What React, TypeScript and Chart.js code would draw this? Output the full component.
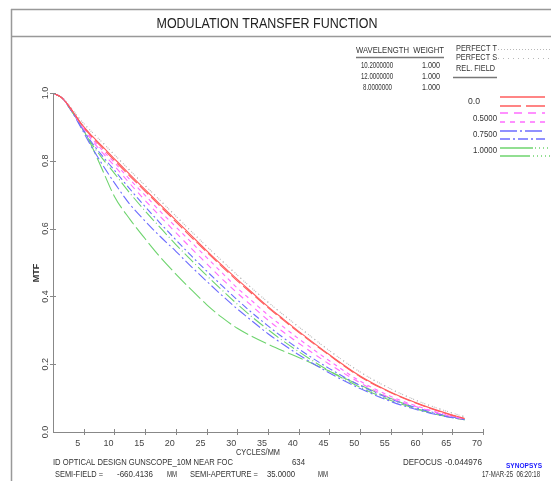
import React, { useEffect, useRef } from "react";
import { Chart, registerables } from "chart.js";
Chart.register(...registerables);

// ---------- data ----------
const CYCLES = [0, 1.5, 3, 4.5, 6, 8, 10, 12.5, 15, 17.5, 20, 22.5, 25, 27.5, 30, 32.5, 35, 37.5, 40, 45, 50, 55, 60, 65, 67];
const PERFECT = [1.0, 0.986, 0.955, 0.92, 0.891, 0.855, 0.818, 0.772, 0.727, 0.682, 0.637, 0.592, 0.548, 0.505, 0.463, 0.422, 0.383, 0.346, 0.31, 0.24, 0.177, 0.127, 0.087, 0.056, 0.045];
const F00_T = [1.0, 0.985, 0.951, 0.912, 0.88, 0.843, 0.806, 0.76, 0.715, 0.67, 0.625, 0.58, 0.535, 0.492, 0.45, 0.41, 0.37, 0.333, 0.297, 0.228, 0.165, 0.117, 0.08, 0.05, 0.04];
const F00_S = [1.0, 0.985, 0.951, 0.911, 0.877, 0.839, 0.801, 0.755, 0.71, 0.665, 0.62, 0.575, 0.531, 0.488, 0.446, 0.406, 0.367, 0.33, 0.294, 0.226, 0.163, 0.116, 0.079, 0.049, 0.04];
const F05_S = [1.0, 0.985, 0.951, 0.909, 0.873, 0.832, 0.795, 0.745, 0.698, 0.65, 0.605, 0.56, 0.515, 0.47, 0.425, 0.385, 0.345, 0.31, 0.275, 0.21, 0.15, 0.105, 0.072, 0.047, 0.04];
const F05_T = [1.0, 0.985, 0.95, 0.907, 0.868, 0.825, 0.785, 0.733, 0.683, 0.635, 0.588, 0.542, 0.497, 0.452, 0.41, 0.37, 0.33, 0.295, 0.262, 0.2, 0.145, 0.1, 0.07, 0.045, 0.038];
const F075_S = [1.0, 0.985, 0.949, 0.905, 0.862, 0.815, 0.772, 0.717, 0.665, 0.615, 0.567, 0.52, 0.475, 0.432, 0.39, 0.35, 0.313, 0.278, 0.245, 0.187, 0.137, 0.097, 0.067, 0.044, 0.037];
const F075_T = [1.0, 0.985, 0.947, 0.9, 0.85, 0.79, 0.735, 0.672, 0.622, 0.576, 0.533, 0.488, 0.445, 0.403, 0.363, 0.326, 0.29, 0.258, 0.228, 0.174, 0.128, 0.09, 0.062, 0.042, 0.036];
const F10_S = [1.0, 0.985, 0.948, 0.903, 0.858, 0.808, 0.763, 0.705, 0.652, 0.602, 0.553, 0.507, 0.462, 0.419, 0.377, 0.338, 0.302, 0.268, 0.237, 0.18, 0.132, 0.093, 0.064, 0.043, 0.036];
const F10_T = [1.0, 0.985, 0.947, 0.905, 0.855, 0.775, 0.695, 0.628, 0.57, 0.515, 0.466, 0.42, 0.376, 0.338, 0.306, 0.281, 0.259, 0.239, 0.22, 0.179, 0.138, 0.099, 0.064, 0.042, 0.036];

const X_TICKS = [5, 10, 15, 20, 25, 30, 35, 40, 45, 50, 55, 60, 65, 70];
const Y_TICKS = [0, 0.2, 0.4, 0.6, 0.8, 1.0];
const Y_TICK_LABELS = ["0.0", "0.2", "0.4", "0.6", "0.8", "1.0"];
const WAVELENGTHS = ["10.2000000", "12.0000000", "8.0000000"];
const WEIGHTS = ["1.000", "1.000", "1.000"];
const FIELDS = ["0.0", "0.5000", "0.7500", "1.0000"];

const RED = "#ff5c5c";
const MAG = "#ff6cff";
const BLUE = "#6c6cff";
const GREEN = "#6ed46e";
const GRAY = "#b8b8b8";

const FONT = '"Liberation Sans Narrow", "Liberation Sans", Arial, sans-serif';

function pts(arr: number[]) {
  return CYCLES.map((c, i) => ({ x: c, y: arr[i] }));
}

function txt(
  ctx: CanvasRenderingContext2D,
  s: string,
  x: number,
  y: number,
  o: { size?: number; align?: CanvasTextAlign; color?: string; maxW?: number; bold?: boolean } = {}
) {
  ctx.save();
  ctx.font = `${o.bold ? "bold " : ""}${o.size ?? 9}px ${FONT}`;
  ctx.fillStyle = o.color ?? "#333";
  ctx.textAlign = o.align ?? "left";
  ctx.textBaseline = "middle";
  if (o.maxW) ctx.fillText(s, x, y, o.maxW);
  else ctx.fillText(s, x, y);
  ctx.restore();
}

function seg(ctx: CanvasRenderingContext2D, x1: number, y1: number, x2: number, y2: number, color: string, dash: number[] = [], w = 1) {
  ctx.save();
  ctx.strokeStyle = color;
  ctx.lineWidth = w;
  ctx.setLineDash(dash);
  ctx.beginPath();
  ctx.moveTo(x1, y1);
  ctx.lineTo(x2, y2);
  ctx.stroke();
  ctx.restore();
}

const decor = {
  id: "decor",
  beforeDraw(chart: any) {
    const ctx = chart.ctx;
    ctx.save();
    ctx.fillStyle = "#fff";
    ctx.fillRect(0, 0, chart.width, chart.height);
    ctx.restore();
  },
  afterDraw(chart: any) {
    const ctx: CanvasRenderingContext2D = chart.ctx;
    const xs = chart.scales.x;
    const ys = chart.scales.y;
    // frame
    seg(ctx, 11, 9.5, 551, 9.5, "#999", [], 1.5);
    seg(ctx, 11, 36.5, 551, 36.5, "#999", [], 1.5);
    seg(ctx, 11.5, 9, 11.5, 481, "#999", [], 1.5);
    // title
    txt(ctx, "MODULATION TRANSFER FUNCTION", 267, 24, { size: 15, align: "center", color: "#222", maxW: 221 });

    // tick marks
    const ax = chart.chartArea;
    X_TICKS.forEach((v) => {
      const px = Math.round(xs.getPixelForValue(v)) + 0.5;
      seg(ctx, px, ax.bottom - 3, px, ax.bottom + 3, "#888");
    });
    Y_TICKS.forEach((v, i) => {
      const py = Math.round(ys.getPixelForValue(v)) + 0.5;
      if (v > 0) seg(ctx, ax.left - 3, py, ax.left + 3, py, "#888");
      ctx.save();
      ctx.translate(46, ys.getPixelForValue(v));
      ctx.rotate(-Math.PI / 2);
      txt(ctx, Y_TICK_LABELS[i], 0, 0, { size: 9, align: "center", color: "#444" });
      ctx.restore();
    });
    // axis titles
    ctx.save();
    ctx.translate(37, 273);
    ctx.rotate(-Math.PI / 2);
    txt(ctx, "MTF", 0, 0, { size: 9, align: "center", color: "#333", bold: true });
    ctx.restore();
    txt(ctx, "CYCLES/MM", 258, 453, { size: 9, align: "center", color: "#333", maxW: 44 });

    // legend: wavelengths
    txt(ctx, "WAVELENGTH  WEIGHT", 356, 51, { maxW: 88 });
    seg(ctx, 356, 57.5, 444, 57.5, "#777", [], 1.5);
    const wy = [66, 77, 88];
    WAVELENGTHS.forEach((w, i) => {
      txt(ctx, w, i === 2 ? 363 : 361, wy[i], { maxW: i === 2 ? 29 : 32 });
      txt(ctx, WEIGHTS[i], 422, wy[i], { maxW: 18 });
    });
    txt(ctx, "PERFECT T", 456, 49, { maxW: 41 });
    txt(ctx, "PERFECT S", 456, 58, { maxW: 41 });
    seg(ctx, 498, 49.5, 551, 49.5, GRAY, [1, 2]);
    seg(ctx, 498, 58.5, 551, 58.5, GRAY, [1, 4]);
    txt(ctx, "REL. FIELD", 456, 69, { maxW: 39 });
    seg(ctx, 453, 77.5, 497, 77.5, "#777", [], 1.5);

    const fy = [102, 119, 135, 151];
    FIELDS.forEach((f, i) => {
      txt(ctx, f, i === 0 ? 468 : 473, fy[i], { maxW: i === 0 ? 12 : 24 });
    });
    seg(ctx, 500, 97, 545, 97, RED, [], 1.5);
    seg(ctx, 500, 106, 545, 106, RED, [21, 5], 1.5);
    seg(ctx, 500, 113, 545, 113, MAG, [8, 6], 1.5);
    seg(ctx, 500, 122, 545, 122, MAG, [5, 5], 1.5);
    seg(ctx, 500, 131, 545, 131, BLUE, [17, 3, 2, 3], 1.5);
    seg(ctx, 500, 139, 545, 139, BLUE, [10, 3, 2, 3], 1.5);
    seg(ctx, 500, 148, 533, 148, GREEN, [], 1.5);
    seg(ctx, 535, 148, 551, 148, GREEN, [1, 3], 1.5);
    seg(ctx, 500, 156, 530, 156, GREEN, [], 1.5);
    seg(ctx, 533, 156, 551, 156, GREEN, [1, 3], 1.5);

    // footer
    txt(ctx, "ID OPTICAL DESIGN GUNSCOPE_10M NEAR FOC", 53, 463, { maxW: 180 });
    txt(ctx, "634", 292, 463, { maxW: 13 });
    txt(ctx, "DEFOCUS", 403, 463, { maxW: 39 });
    txt(ctx, "-0.044976", 445, 463, { maxW: 37 });
    txt(ctx, "SYNOPSYS", 524, 466, { size: 7, align: "center", color: "#1a1aff", bold: true, maxW: 36 });
    txt(ctx, "SEMI-FIELD =", 55, 475, { maxW: 48 });
    txt(ctx, "-660.4136", 117, 475, { maxW: 36 });
    txt(ctx, "MM", 167, 475, { maxW: 10 });
    txt(ctx, "SEMI-APERTURE =", 190, 475, { maxW: 68 });
    txt(ctx, "35.0000", 267, 475, { maxW: 28 });
    txt(ctx, "MM", 318, 475, { maxW: 10 });
    txt(ctx, "17-MAR-25  06:20:18", 482, 475, { maxW: 58 });
  },
};

export default function App() {
  const ref = useRef<HTMLCanvasElement>(null);
  useEffect(() => {
    if (!ref.current) return;
    const mk = (label: string, data: number[], color: string, dash: number[], w = 1.1) => ({
      label,
      data: pts(data),
      borderColor: color,
      borderDash: dash,
      borderWidth: w,
      pointRadius: 0,
      fill: false,
      cubicInterpolationMode: "monotone" as const,
    });
    const chart = new Chart(ref.current, {
      type: "line",
      data: {
        datasets: [
          mk("0.0 T", F00_T, RED, []),
          mk("0.0 S", F00_S, RED, [12, 4]),
          mk("0.5 T", F05_T, MAG, [6, 5]),
          mk("0.5 S", F05_S, MAG, [4, 4]),
          mk("0.75 T", F075_T, BLUE, [10, 3, 2, 3]),
          mk("0.75 S", F075_S, BLUE, [7, 3, 2, 3]),
          mk("1.0 T", F10_T, GREEN, [16, 4]),
          mk("1.0 S", F10_S, GREEN, [12, 3, 1, 3]),
          mk("PERFECT T", PERFECT, GRAY, [1, 3], 1.1),
          mk("PERFECT S", PERFECT, GRAY, [1, 5], 1.1),
        ],
      },
      options: {
        animation: false,
        responsive: false,
        maintainAspectRatio: false,
        layout: { padding: { left: 0, top: 93, right: 68, bottom: 0 } },
        plugins: { legend: { display: false }, tooltip: { enabled: false }, title: { display: false } },
        scales: {
          x: {
            type: "linear",
            min: 0,
            max: 70,
            afterBuildTicks: (s: any) => {
              s.ticks = X_TICKS.map((v) => ({ value: v }));
            },
            afterFit: (s: any) => {
              s.height = 49;
            },
            grid: { display: false, drawTicks: false },
            border: { display: true, color: "#888", width: 1 },
            ticks: {
              color: "#444",
              font: { size: 9, family: FONT },
              padding: 6,
              labelOffset: -6,
              maxRotation: 0,
              autoSkip: false,
            },
          },
          y: {
            type: "linear",
            min: 0,
            max: 1,
            afterFit: (s: any) => {
              s.width = 53;
            },
            grid: { display: false, drawTicks: false },
            border: { display: true, color: "#888", width: 1 },
            ticks: { display: false, stepSize: 0.2 },
          },
        },
      },
      plugins: [decor],
    } as any);
    return () => chart.destroy();
  }, []);
  return (
    <div style={{ position: "absolute", left: 0, top: 0, width: 551, height: 481 }}>
      <canvas ref={ref} width={551} height={481} style={{ width: 551, height: 481, display: "block" }} />
    </div>
  );
}
